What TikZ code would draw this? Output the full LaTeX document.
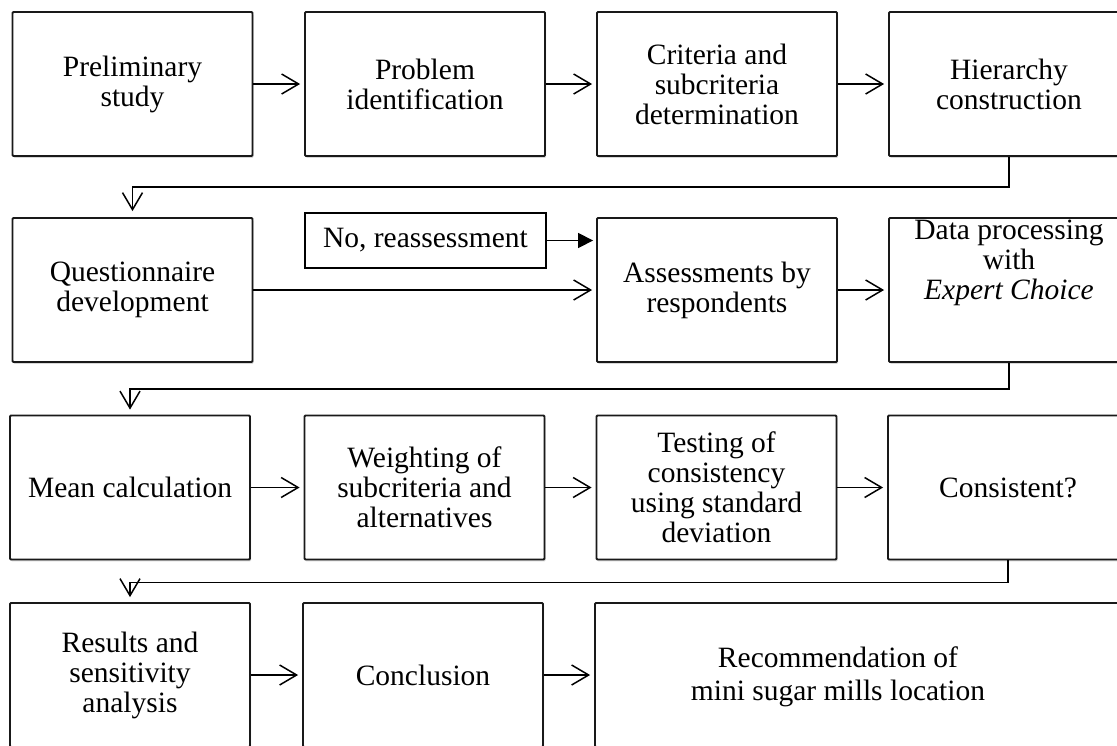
\documentclass[tikz,border=0pt]{standalone}
\usepackage{fontspec}
\setmainfont{Liberation Serif}
\usetikzlibrary{arrows.meta,shadows}
\tikzset{
  stepbox/.style={draw=black!90, line width=1.8pt, rounded corners=1pt, fill=white,
    minimum width=240pt, minimum height=144pt, inner sep=0pt, align=center,
    font=\fontsize{29.5}{30}\selectfont,
    drop shadow={shadow xshift=1pt, shadow yshift=-1.8pt, fill=black!35, opacity=0.45}},
  txt/.style={inner sep=0pt, align=center, font=\fontsize{29.5}{30}\selectfont},
  notebox/.style={draw=black, line width=2.2pt, fill=white, minimum width=241pt,
    minimum height=55pt, inner sep=0pt, font=\fontsize{29.5}{30}\selectfont},
  flow/.style={line width=1.3pt, -{Straight Barb[length=17pt,width=20pt,line width=1.5pt]}, shorten >=4pt},
  feed/.style={line width=1.3pt, -{Triangle[length=15pt,width=15pt]}, shorten >=3pt},
}
\begin{document}
\begin{tikzpicture}[x=1pt,y=-1pt]
\useasboundingbox (0,0) rectangle (1117,745);
\clip (0,0) rectangle (1117,745);
% row 1
\node[stepbox] (pre) at (132.5,84) {Preliminary\\study};
\node[stepbox] (prob) at (425,84) {Problem\\identification};
\node[stepbox] (crit) at (717,84) {Criteria and\\subcriteria\\determination};
\node[stepbox] (hier) at (1009,84) {Hierarchy\\construction};
% row 2
\node[stepbox] (ques) at (132.5,290) {Questionnaire\\development};
\node[notebox] (reas) at (425.5,240.5) {No, reassessment};
\node[stepbox] (asse) at (717,290) {Assessments by\\respondents};
\node[stepbox] (data) at (1009,290) {};
\node[txt, yshift=27pt] (datatxt) at (data.center) {Data processing\\with\\\textit{Expert Choice}};
% row 3
\node[stepbox] (mean) at (130,487.5) {Mean calculation};
\node[stepbox] (weig) at (424.5,487.5) {Weighting of\\subcriteria and\\alternatives};
\node[stepbox] (test) at (716.5,487.5) {Testing of\\consistency\\using standard\\deviation};
\node[stepbox] (cons) at (1008,487.5) {Consistent?};
% row 4
\node[stepbox] (resu) at (130,675) {Results and\\sensitivity\\analysis};
\node[stepbox] (conc) at (423,675) {Conclusion};
\node[stepbox, minimum width=540pt] (reco) at (865,675) {};
\node[txt, font=\fontsize{29.5}{33}\selectfont] (recotxt) at (838,677) {Recommendation of\\mini sugar mills location};
% connectors row 1
\draw[flow] (pre.east) -- (prob.west);
\draw[flow] (prob.east) -- (crit.west);
\draw[flow] (crit.east) -- (hier.west);
\draw[flow, shorten >=6pt] (hier.south) -- ++(0,30) -| (ques.north);
% row 2
\draw[flow] (ques.east) -- (asse.west);
\draw[feed] (reas.east) -- (reas.east -| asse.west);
\draw[flow] (asse.east) -- (data.west);
\draw[flow, shorten >=5pt] (data.south) -- ++(0,26) -| (mean.north);
% row 3
\draw[flow] (mean.east) -- (weig.west);
\draw[flow] (weig.east) -- (test.west);
\draw[flow] (test.east) -- (cons.west);
\draw[flow, shorten >=5pt] (cons.south) -- ++(0,22) -| (resu.north);
% row 4
\draw[flow] (resu.east) -- (conc.west);
\draw[flow] (conc.east) -- (reco.west);
\end{tikzpicture}
\end{document}
